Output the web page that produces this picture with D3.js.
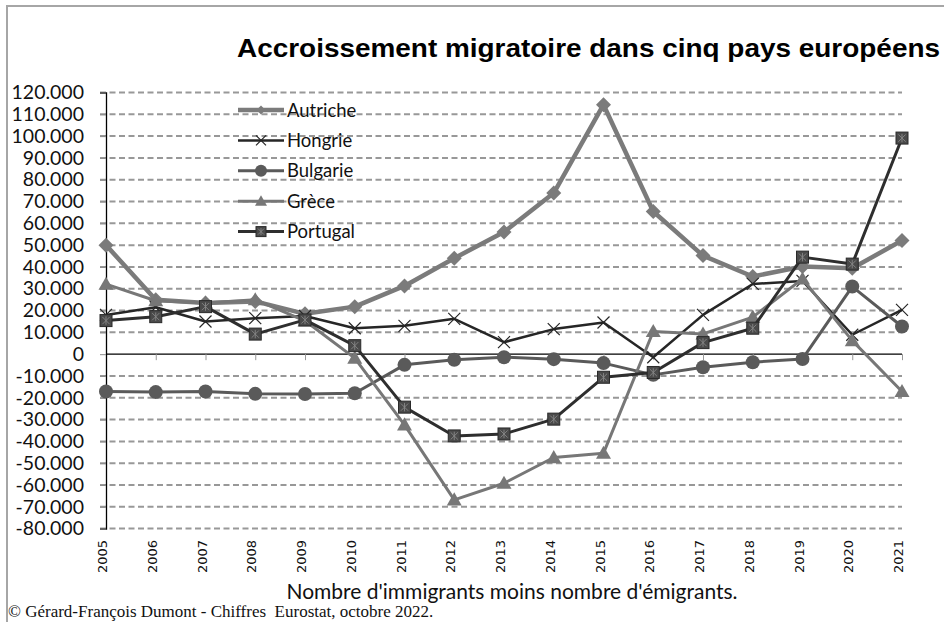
<!DOCTYPE html>
<html>
<head>
<meta charset="utf-8">
<script src="https://cdn.jsdelivr.net/npm/d3@7"></script>
<style>
  body { margin: 0; background: #fff; }
  svg { display: block; }
</style>
</head>
<body>
<div id="chart"></div>
<script>
// Accroissement migratoire
const years = ["2005","2006","2007","2008","2009","2010","2011","2012","2013","2014","2015","2016","2017","2018","2019","2020","2021"];
const autriche = [50000, 25000, 23500, 24200, 18500, 21800, 31300, 44000, 56000, 73900, 114400, 65400, 45200, 35600, 40200, 39400, 52100];
const hongrie  = [18000, 21500, 15000, 16500, 17500, 11900, 13000, 16200, 5500, 11500, 14500, -1400, 18000, 32200, 33600, 8900, 20300];
const bulgarie = [-17100, -17400, -17100, -18200, -18300, -17900, -4900, -2600, -1400, -2300, -4100, -9500, -6000, -3700, -2200, 31000, 12700];
const grece    = [32100, 24500, 23500, 25000, 15300, -1800, -32400, -66800, -59200, -47400, -45400, 10400, 9300, 17000, 34500, 6200, -17100];
const portugal = [15400, 17200, 21800, 9200, 15700, 3900, -24300, -37500, -36600, -29800, -10600, -8400, 5300, 11900, 44500, 41300, 99100];
const yTicks = d3.range(-80000, 120001, 10000);

const seriesNames = ["Autriche", "Hongrie", "Bulgarie", "Grèce", "Portugal"];
const seriesValues = [autriche, hongrie, bulgarie, grece, portugal];
const styles = {
  "Autriche": { color: "#7b7b7b", width: 4.5, marker: "diamond" },
  "Hongrie":  { color: "#262626", width: 2.5, marker: "cross" },
  "Bulgarie": { color: "#5a5a5a", width: 3, marker: "circle" },
  "Grèce":    { color: "#777777", width: 3, marker: "triangle" },
  "Portugal": { color: "#2e2e2e", width: 3, marker: "square" }
};

const W = 944, H = 622;
const plot = { left: 106, right: 902, top: 92.5, bottom: 528.6 };

const svg = d3.select("#chart").append("svg")
    .attr("width", W)
    .attr("height", H);

// cadre
svg.append("path")
    .attr("d", `M7,${H} L7,6 L${W},6`)
    .attr("fill", "none")
    .attr("stroke", "#a6a6a6")
    .attr("stroke-width", 2);

const x = d3.scalePoint()
    .domain(years)
    .range([plot.left, plot.right]);

const y = d3.scaleLinear()
    .domain([-80000, 120000])
    .range([plot.bottom, plot.top]);

const fmt = d => d === 0 ? "0" : d3.format(",")(d).replace(/,/g, ".").replace("−", "-");

// gridlines
svg.append("g")
    .selectAll("line")
    .data(yTicks.filter(d => d !== 0))
    .enter().append("line")
    .attr("x1", plot.left - 6)
    .attr("x2", plot.right)
    .attr("y1", d => y(d))
    .attr("y2", d => y(d))
    .attr("stroke", "#989898")
    .attr("stroke-width", 2)
    .attr("stroke-dasharray", "6,3.5");

// y axis
const yAxis = svg.append("g")
    .attr("transform", `translate(${plot.left},0)`)
    .call(d3.axisLeft(y).tickValues(yTicks).tickFormat(fmt).tickSize(6).tickPadding(16));
yAxis.select(".domain").attr("stroke", "#000").attr("stroke-width", 1.3);
yAxis.selectAll(".tick line").attr("stroke", "#8c8c8c");
yAxis.selectAll("text")
    .attr("font-family", "Lato, sans-serif")
    .attr("font-size", 19.5)
    .attr("fill", "#111");

// zero line with category ticks
const xAxis = svg.append("g")
    .attr("transform", `translate(0,${y(0)})`)
    .call(d3.axisBottom(x).tickSize(6).tickFormat(""));
xAxis.select(".domain").attr("stroke", "#000").attr("stroke-width", 1.3).attr("d", `M${plot.left},0H${plot.right}`);
xAxis.selectAll(".tick line").attr("stroke", "#999");
xAxis.selectAll(".tick").filter(d => d === years[0]).remove();

// year labels
svg.append("g")
    .selectAll("text")
    .data(years)
    .enter().append("text")
    .attr("transform", d => `translate(${x(d) + 1},540) rotate(-90)`)
    .attr("text-anchor", "end")
    .attr("font-family", "DejaVu Sans, sans-serif")
    .attr("font-size", 13)
    .attr("fill", "#111")
    .text(d => d);

// markers
function drawMarker(g, type, color, size) {
  const s = size;
  if (type === "diamond") {
    g.append("path").attr("d", `M0,${-s}L${s},0L0,${s}L${-s},0Z`).attr("fill", color);
  } else if (type === "cross") {
    g.append("path").attr("d", `M${-s},${-s}L${s},${s}M${-s},${s}L${s},${-s}`)
        .attr("stroke", color).attr("stroke-width", 1.2);
  } else if (type === "circle") {
    g.append("circle").attr("r", s).attr("fill", color);
  } else if (type === "triangle") {
    g.append("path").attr("d", `M0,${-s}L${s},${s * 0.75}L${-s},${s * 0.75}Z`).attr("fill", color);
  } else if (type === "square") {
    g.append("rect").attr("x", -s).attr("y", -s).attr("width", 2 * s).attr("height", 2 * s)
        .attr("fill", "#4a4a4a").attr("stroke", "#2a2a2a").attr("stroke-width", 1);
    g.append("path").attr("d", `M${-s * 0.6},${-s * 0.6}L${s * 0.6},${s * 0.6}M${-s * 0.6},${s * 0.6}L${s * 0.6},${-s * 0.6}M0,${-s * 0.7}L0,${s * 0.7}`)
        .attr("stroke", "#888").attr("stroke-width", 0.9);
  }
}
const markerSize = { diamond: 7.5, cross: 6, circle: 7, triangle: 7.5, square: 6 };
const legendSize = { diamond: 4.5, cross: 5, circle: 6, triangle: 6, square: 5 };

const line = d3.line()
    .x((d, i) => x(years[i]))
    .y(d => y(d));

seriesNames.forEach((name, k) => {
  const st = styles[name];
  const vals = seriesValues[k];
  const g = svg.append("g");
  g.append("path")
      .attr("d", line(vals))
      .attr("fill", "none")
      .attr("stroke", st.color)
      .attr("stroke-width", st.width)
      .attr("stroke-linejoin", "round");
  vals.forEach((v, i) => {
    const m = g.append("g").attr("transform", `translate(${x(years[i])},${y(v)})`);
    drawMarker(m, st.marker, st.color, markerSize[st.marker]);
  });
});

// legend
const legend = svg.append("g").attr("transform", "translate(238,110)");
seriesNames.forEach((name, k) => {
  const st = styles[name];
  const row = legend.append("g").attr("transform", `translate(0,${k * 30.4})`);
  row.append("line")
      .attr("x1", 0).attr("x2", 46)
      .attr("stroke", st.color)
      .attr("stroke-width", st.width);
  drawMarker(row.append("g").attr("transform", "translate(23,0)"), st.marker, st.color, legendSize[st.marker]);
  row.append("text")
      .attr("x", 49)
      .attr("y", 6.5)
      .attr("font-family", "Lato, sans-serif")
      .attr("font-size", 18.5)
      .attr("fill", "#111")
      .text(name);
});

// titles
svg.append("text")
    .attr("x", 940)
    .attr("y", 57)
    .attr("text-anchor", "end")
    .attr("font-family", "Liberation Sans, Arial, sans-serif")
    .attr("font-weight", "bold")
    .attr("font-size", 26)
    .attr("textLength", 703)
    .attr("lengthAdjust", "spacingAndGlyphs")
    .attr("fill", "#000")
    .text("Accroissement migratoire dans cinq pays européens");

svg.append("text")
    .attr("x", 512)
    .attr("y", 599)
    .attr("text-anchor", "middle")
    .attr("font-family", "Lato, sans-serif")
    .attr("font-size", 21)
    .attr("fill", "#111")
    .text("Nombre d'immigrants moins nombre d'émigrants.");

svg.append("text")
    .attr("x", 8)
    .attr("y", 617)
    .attr("font-family", "Liberation Serif, Times New Roman, serif")
    .attr("font-size", 17)
    .attr("fill", "#111")
    .text("© Gérard-François Dumont - Chiffres  Eurostat, octobre 2022.")
    .style("white-space", "pre");
</script>
</body>
</html>
